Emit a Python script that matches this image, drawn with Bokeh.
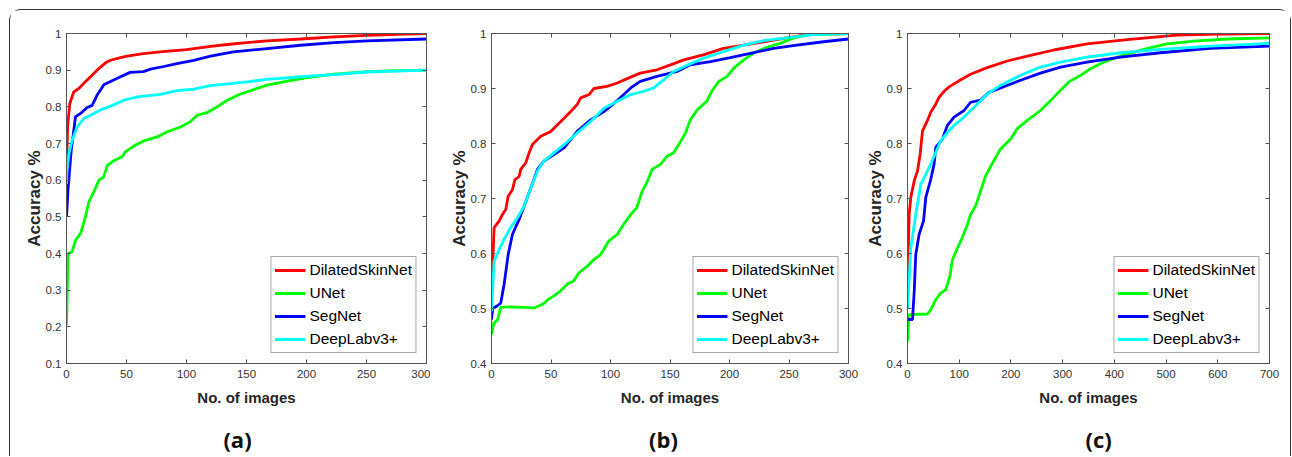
from bokeh.plotting import figure
from bokeh.layouts import row
from bokeh.models import (LinearAxis, FixedTicker, Legend, LegendItem, Range1d,
                          NumeralTickFormatter, CustomJSTickFormatter)
from bokeh.embed import file_html
from bokeh.resources import INLINE

series_names = ["DilatedSkinNet", "UNet", "SegNet", "DeepLabv3+"]
series_colors = ["#ff0000", "#00ff00", "#0000ff", "#00ffff"]

# ---------------- panel (a) ----------------
a_dilated_x = [0, 1, 2.75, 6.1, 10.3, 14.4, 20, 25.5, 32.5, 36.7, 45, 50.5, 64, 78, 100, 120, 134, 150, 167, 195, 223, 250, 275, 300]
a_dilated_y = [0.632, 0.75, 0.809, 0.841, 0.85, 0.864, 0.882, 0.9, 0.92, 0.927, 0.934, 0.938, 0.945, 0.95, 0.956, 0.965, 0.97, 0.975, 0.98, 0.985, 0.991, 0.995, 0.998, 1.0]
a_unet_x = [0, 1.4, 4.7, 7.5, 11.7, 15.8, 18.6, 22.8, 27, 31, 34, 39.4, 46.4, 49, 56, 64.4, 75.5, 84, 95, 103, 109, 117, 125.5, 134, 145, 156, 167, 184, 200.5, 223, 250.5, 275, 300]
a_unet_y = [0.205, 0.40, 0.405, 0.436, 0.455, 0.50, 0.541, 0.568, 0.60, 0.609, 0.64, 0.653, 0.664, 0.677, 0.693, 0.707, 0.718, 0.732, 0.745, 0.759, 0.777, 0.784, 0.80, 0.818, 0.835, 0.847, 0.859, 0.87, 0.88, 0.889, 0.896, 0.899, 0.90]
a_segnet_x = [0, 1.4, 3.9, 7.5, 11.7, 17.2, 21.4, 25.5, 29.7, 31, 36.7, 45, 53, 64, 70, 81, 92, 106, 120, 139, 167, 195, 223, 250.5, 300]
a_segnet_y = [0.50, 0.58, 0.68, 0.773, 0.782, 0.798, 0.804, 0.832, 0.853, 0.86, 0.869, 0.882, 0.894, 0.896, 0.903, 0.91, 0.918, 0.927, 0.938, 0.95, 0.959, 0.968, 0.975, 0.98, 0.985]
a_deeplab_x = [0, 0.5, 2.5, 4.7, 8.9, 14.4, 20, 28, 36.7, 47.8, 59, 78, 92, 106, 120, 150.5, 167, 195, 223, 250.5, 300]
a_deeplab_y = [0.59, 0.636, 0.68, 0.709, 0.745, 0.768, 0.777, 0.791, 0.802, 0.818, 0.827, 0.834, 0.844, 0.848, 0.858, 0.868, 0.875, 0.882, 0.888, 0.895, 0.90]

# ---------------- panel (b) ----------------
b_dilated_x = [0, 2.2, 6.4, 9.2, 12, 14, 17.6, 19.6, 23.2, 24.6, 28.8, 31.6, 34.4, 41.4, 49.8, 55.4, 61, 66.5, 72, 75, 82, 86, 97, 105.7, 114, 125, 139, 150.4, 161.6, 178, 195, 212, 228.7, 245.5, 265, 300]
b_dilated_y = [0.532, 0.647, 0.659, 0.671, 0.68, 0.704, 0.716, 0.734, 0.74, 0.753, 0.765, 0.783, 0.798, 0.813, 0.822, 0.834, 0.846, 0.858, 0.871, 0.883, 0.889, 0.90, 0.904, 0.91, 0.918, 0.928, 0.934, 0.943, 0.952, 0.961, 0.973, 0.979, 0.985, 0.991, 0.998, 1.0]
b_unet_x = [0, 2, 5, 7.8, 16, 36, 44, 48, 52.5, 58, 64, 69, 73.5, 80.5, 86, 91.7, 98.7, 105.7, 111, 117, 122, 126.6, 131, 135, 142, 147.6, 153, 157.4, 163, 167, 172.8, 181, 185, 191, 198, 203.5, 212, 220, 231.5, 242.6, 253.8, 268, 300]
b_unet_y = [0.453, 0.474, 0.479, 0.502, 0.503, 0.501, 0.509, 0.517, 0.523, 0.532, 0.545, 0.55, 0.565, 0.577, 0.589, 0.598, 0.623, 0.635, 0.653, 0.671, 0.683, 0.713, 0.731, 0.753, 0.762, 0.777, 0.783, 0.798, 0.819, 0.843, 0.861, 0.877, 0.895, 0.913, 0.922, 0.937, 0.952, 0.964, 0.975, 0.982, 0.992, 0.998, 1.0]
b_segnet_x = [0, 1, 5, 7.8, 10.6, 14, 17.6, 23.2, 27.4, 33, 38.6, 44, 52.5, 61, 72, 83.3, 94.5, 105.7, 117, 125, 139, 156, 167, 184, 200.7, 217.5, 237, 256.6, 279, 300]
b_segnet_y = [0.48, 0.50, 0.505, 0.51, 0.544, 0.598, 0.635, 0.662, 0.686, 0.719, 0.753, 0.768, 0.78, 0.792, 0.822, 0.843, 0.858, 0.878, 0.901, 0.913, 0.922, 0.931, 0.943, 0.949, 0.956, 0.964, 0.973, 0.979, 0.985, 0.99]
b_deeplab_x = [0, 2.2, 6.4, 10.6, 16, 21.8, 27.4, 33, 38.6, 44, 52.5, 61, 72, 83.3, 94.5, 105.7, 117, 128, 136.4, 144.8, 153, 164, 178, 195, 212, 228.7, 251, 270.6, 300]
b_deeplab_y = [0.495, 0.586, 0.607, 0.626, 0.647, 0.665, 0.686, 0.719, 0.75, 0.768, 0.783, 0.798, 0.819, 0.84, 0.864, 0.877, 0.889, 0.895, 0.901, 0.916, 0.931, 0.942, 0.955, 0.967, 0.979, 0.987, 0.993, 0.998, 1.0]

# ---------------- panel (c) ----------------
c_dilated_x = [0, 3.2, 6.4, 13, 19.3, 24.5, 29, 38.6, 45, 54.7, 61, 70.8, 80.4, 103, 122, 154, 193, 231.6, 283, 347, 425, 521, 600, 700]
c_dilated_y = [0.544, 0.671, 0.702, 0.732, 0.75, 0.781, 0.823, 0.842, 0.857, 0.872, 0.884, 0.895, 0.903, 0.916, 0.926, 0.938, 0.95, 0.959, 0.97, 0.981, 0.989, 0.997, 0.999, 1.0]
c_unet_x = [0, 3, 38.6, 45, 54.7, 64, 74, 82, 87, 96.5, 106, 116, 122, 132, 141.5, 151, 167, 180, 199.5, 212, 231.6, 257, 276.7, 296, 312, 334.6, 354, 379.6, 411.7, 456.8, 502, 553, 617.6, 700]
c_unet_y = [0.44, 0.489, 0.49, 0.498, 0.516, 0.528, 0.534, 0.559, 0.589, 0.61, 0.629, 0.653, 0.671, 0.687, 0.714, 0.741, 0.769, 0.79, 0.808, 0.827, 0.842, 0.86, 0.878, 0.897, 0.912, 0.924, 0.936, 0.948, 0.959, 0.971, 0.981, 0.986, 0.99, 0.992]
c_segnet_x = [0, 9.7, 13, 16, 22.5, 31, 35.4, 45, 51.5, 54.7, 67.6, 77.2, 90, 109.4, 122, 141.5, 157.6, 180, 218.8, 257, 296, 347, 411.7, 489, 585.5, 700]
c_segnet_y = [0.48, 0.48, 0.531, 0.598, 0.635, 0.659, 0.702, 0.735, 0.763, 0.793, 0.808, 0.833, 0.848, 0.86, 0.875, 0.879, 0.893, 0.901, 0.915, 0.928, 0.939, 0.948, 0.957, 0.965, 0.973, 0.977]
c_deeplab_x = [0, 6.4, 16, 25.7, 35.4, 45, 54.7, 64.3, 77.2, 90, 109.4, 128.7, 154.4, 180, 218.8, 257, 296, 347, 411.7, 489, 585.5, 700]
c_deeplab_y = [0.50, 0.61, 0.671, 0.726, 0.744, 0.763, 0.784, 0.805, 0.82, 0.833, 0.848, 0.866, 0.89, 0.906, 0.924, 0.939, 0.948, 0.957, 0.965, 0.971, 0.977, 0.982]

ab_x_ticks = [0, 50, 100, 150, 200, 250, 300]
c_x_ticks = [0, 100, 200, 300, 400, 500, 600, 700]
a_y_ticks = [0.1, 0.2, 0.3, 0.4, 0.5, 0.6, 0.7, 0.8, 0.9, 1.0]
bc_y_ticks = [0.4, 0.5, 0.6, 0.7, 0.8, 0.9, 1.0]
panel_labels = ["(a)", "(b)", "(c)"]
panel_label_x = [142.5, 144.5, 369.5]   # where each caption sits, in x-data units

AXIS_COLOR = "#555555"
TICK_TEXT = "#333333"
FIG_H = 446
TOP = 23
FRAME_H = 330


def make_panel(curves, xmax, ymin, xticks, yticks, width, left, right, label, label_x):
    p = figure(width=width, height=FIG_H, x_range=Range1d(0, xmax), y_range=Range1d(ymin, 1.0),
               min_border_left=left, min_border_right=right, min_border_top=TOP,
               min_border_bottom=FIG_H - TOP - FRAME_H,
               toolbar_location=None, output_backend="svg", background_fill_color="white",
               border_fill_color="white")
    p.grid.visible = False
    p.outline_line_color = AXIS_COLOR

    items = []
    for (xs, ys), name, col in zip(curves, series_names, series_colors):
        r = p.line(xs, ys, line_color=col, line_width=2.8)
        items.append(LegendItem(label=name, renderers=[r]))

    for ax in (p.xaxis[0], p.yaxis[0]):
        ax.axis_line_color = AXIS_COLOR
        ax.major_tick_line_color = AXIS_COLOR
        ax.major_tick_in = 4
        ax.major_tick_out = 0
        ax.minor_tick_line_color = None
        ax.major_label_text_font = "Liberation Sans"
        ax.major_label_text_font_size = "11.5px"
        ax.major_label_text_color = TICK_TEXT
        ax.axis_label_text_font = "Liberation Sans"
        ax.axis_label_text_font_style = "bold"
        ax.axis_label_text_color = "#262626"
    p.xaxis[0].ticker = FixedTicker(ticks=xticks)
    p.yaxis[0].ticker = FixedTicker(ticks=yticks)
    p.yaxis[0].formatter = NumeralTickFormatter(format="0.[0]")
    p.xaxis[0].axis_label = "No. of images"
    p.yaxis[0].axis_label = "Accuracy %"
    p.xaxis[0].axis_label_text_font_size = "15px"
    p.yaxis[0].axis_label_text_font_size = "17px"
    p.xaxis[0].major_label_standoff = 6
    p.xaxis[0].axis_label_standoff = 8
    p.yaxis[0].major_label_standoff = 5
    p.yaxis[0].axis_label_standoff = -1

    top = LinearAxis(ticker=FixedTicker(ticks=xticks), major_label_text_font_size="1px",
                     major_label_text_color=None,
                     major_label_standoff=0, axis_line_color=AXIS_COLOR,
                     major_tick_line_color=AXIS_COLOR, major_tick_in=4, major_tick_out=0,
                     minor_tick_line_color=None)
    rightax = LinearAxis(ticker=FixedTicker(ticks=yticks), major_label_text_font_size="1px",
                         major_label_text_color=None,
                         major_label_standoff=0, axis_line_color=AXIS_COLOR,
                         major_tick_line_color=AXIS_COLOR, major_tick_in=4, major_tick_out=0,
                         minor_tick_line_color=None)
    p.add_layout(top, "above")
    p.add_layout(rightax, "right")

    # caption "(a)" etc. below the x-axis title, as the single label of a bare axis
    cap = LinearAxis(ticker=FixedTicker(ticks=[label_x]),
                     formatter=CustomJSTickFormatter(args=dict(lbl=label), code="return lbl"),
                     axis_line_color=None, major_tick_line_color=None, minor_tick_line_color=None,
                     major_tick_in=0, major_tick_out=0, major_label_standoff=15,
                     major_label_text_font="Open Sans", major_label_text_font_style="bold",
                     major_label_text_font_size="22px", major_label_text_color="#111111")
    p.add_layout(cap, "below")

    legend = Legend(items=items, location="bottom_right", margin=10,
                    label_text_font="Liberation Sans", label_text_font_size="15.5px",
                    label_text_color="#000000", glyph_width=31, glyph_height=20,
                    label_height=20, label_standoff=4, spacing=3, padding=3,
                    border_line_color=AXIS_COLOR, border_line_width=1,
                    background_fill_color="white", background_fill_alpha=1.0)
    p.add_layout(legend)
    return p


pa = make_panel([(a_dilated_x, a_dilated_y), (a_unet_x, a_unet_y), (a_segnet_x, a_segnet_y),
                 (a_deeplab_x, a_deeplab_y)], 300, 0.1, ab_x_ticks, a_y_ticks,
                420, 56, 4, panel_labels[0], panel_label_x[0])
pb = make_panel([(b_dilated_x, b_dilated_y), (b_unet_x, b_unet_y), (b_segnet_x, b_segnet_y),
                 (b_deeplab_x, b_deeplab_y)], 300, 0.4, ab_x_ticks, bc_y_ticks,
                430, 61, 12, panel_labels[1], panel_label_x[1])
pc = make_panel([(c_dilated_x, c_dilated_y), (c_unet_x, c_unet_y), (c_segnet_x, c_segnet_y),
                 (c_deeplab_x, c_deeplab_y)], 700, 0.4, c_x_ticks, bc_y_ticks,
                430, 47, 21, panel_labels[2], panel_label_x[2])

layout = row(pa, pb, pc, styles={
    "margin-left": "9px",
    "margin-top": "9px",
    "border-top": "1px solid #333333",
    "border-left": "1px solid #333333",
    "border-right": "1px solid #333333",
    "border-top-left-radius": "12px",
    "border-top-right-radius": "12px",
})

open("out.html", "w").write(file_html(layout, INLINE))
